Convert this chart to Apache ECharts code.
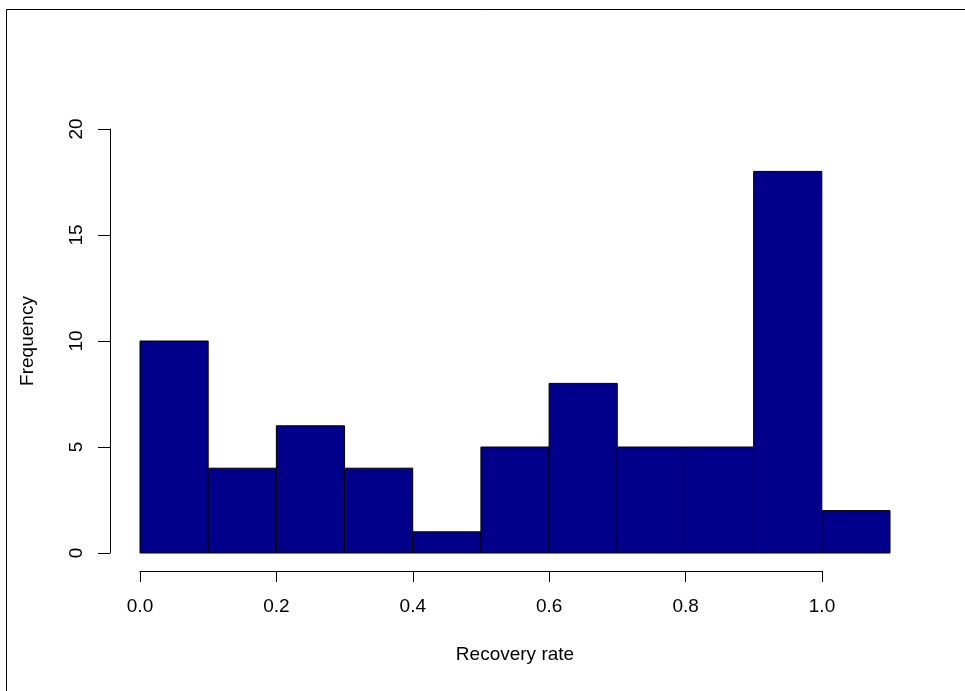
<!DOCTYPE html>
<html>
<head>
<meta charset="utf-8">
<script src="https://cdn.jsdelivr.net/npm/echarts@6/dist/echarts.min.js"></script>
<style>
html,body{margin:0;padding:0;background:#fff;}
#chart{width:965px;height:691px;}
</style>
</head>
<body>
<div id="chart"></div>
<script>
const binStarts = [0.0, 0.1, 0.2, 0.3, 0.4, 0.5, 0.6, 0.7, 0.8, 0.9, 1.0];
const binEnds   = [0.1, 0.2, 0.3, 0.4, 0.5, 0.6, 0.7, 0.8, 0.9, 1.0, 1.1];
const counts    = [10, 4, 6, 4, 1, 5, 8, 5, 5, 18, 2];
const xTickValues = [0.0, 0.2, 0.4, 0.6, 0.8, 1.0];
const yTickValues = [0, 5, 10, 15, 20];

const data = binStarts.map((s, i) => [s, binEnds[i], counts[i]]);
const font = 'Liberation Sans, Arial, Helvetica, sans-serif';
const fs = 19;
const axisCol = '#000';

const chart = echarts.init(document.getElementById('chart'), null, {renderer: 'canvas'});
chart.setOption({
  animation: false,
  backgroundColor: '#fff',
  graphic: [{
    type: 'rect', silent: true,
    shape: {x: 6.5, y: 9.5, width: 2000, height: 2000},
    style: {fill: 'none', stroke: '#000', lineWidth: 1}
  }],
  grid: [
    {left: 140, right: 75, top: 129, bottom: 138, containLabel: false},
    {left: 140, width: 682, top: 129, bottom: 138, containLabel: false}
  ],
  xAxis: [
    {
      gridIndex: 0, type: 'value', min: 0, max: 1.1,
      axisLine: {show: false}, axisTick: {show: false}, axisLabel: {show: false},
      splitLine: {show: false},
      name: 'Recovery rate', nameLocation: 'middle', nameGap: 92,
      nameTextStyle: {fontFamily: font, fontSize: fs, color: '#000'}
    },
    {
      gridIndex: 1, type: 'value', min: 0, max: 1, interval: 0.2,
      offset: 18,
      axisLine: {show: true, onZero: false, lineStyle: {color: axisCol, width: 1}},
      axisTick: {show: true, length: 11, lineStyle: {color: axisCol, width: 1}},
      axisLabel: {
        show: true, margin: 26, fontFamily: font, fontSize: fs, color: '#000',
        formatter: v => xTickValues.some(t => Math.abs(t - v) < 1e-9) ? v.toFixed(1) : ''
      },
      splitLine: {show: false}
    }
  ],
  yAxis: [
    {
      gridIndex: 0, type: 'value', min: 0, max: 20, interval: 5,
      offset: 30,
      axisLine: {show: true, onZero: false, lineStyle: {color: axisCol, width: 1}},
      axisTick: {show: true, length: 12, lineStyle: {color: axisCol, width: 1}},
      axisLabel: {
        show: true, rotate: 90, margin: 24, fontFamily: font, fontSize: fs, color: '#000',
        formatter: v => yTickValues.includes(v) ? String(v) : ''
      },
      splitLine: {show: false},
      name: 'Frequency', nameLocation: 'middle', nameRotate: 90, nameGap: 73,
      nameTextStyle: {fontFamily: font, fontSize: fs, color: '#000'}
    },
    {gridIndex: 1, type: 'value', min: 0, max: 20, show: false}
  ],
  series: [{
    type: 'custom',
    xAxisIndex: 0, yAxisIndex: 0,
    data: data,
    renderItem: function (params, api) {
      const p0 = api.coord([api.value(0), 0]);
      const p1 = api.coord([api.value(1), api.value(2)]);
      return {
        type: 'rect',
        shape: {x: p0[0], y: p1[1], width: p1[0] - p0[0], height: p0[1] - p1[1]},
        style: {fill: '#00008B', stroke: '#000', lineWidth: 1}
      };
    }
  }]
});
</script>
</body>
</html>
